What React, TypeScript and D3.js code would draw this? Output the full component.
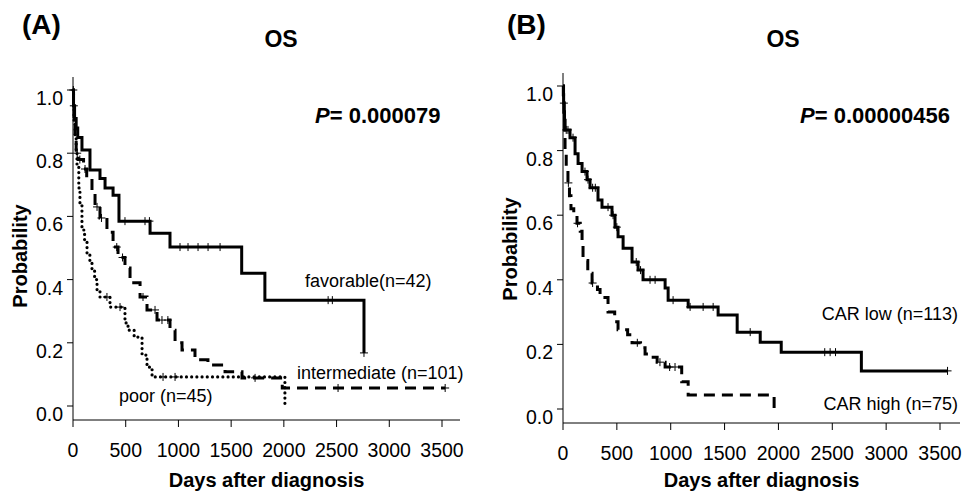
import React from 'react';
import * as d3 from 'd3';

// Panel A – risk groups
const favDays = [0, 5, 15, 30, 45, 85, 161, 256, 304, 380, 436, 731, 920, 1600, 1820, 2760];
const favSurv = [1, 0.95, 0.91, 0.88, 0.85, 0.81, 0.747, 0.72, 0.69, 0.667, 0.585, 0.547, 0.503, 0.42, 0.335, 0.168];
const favCensor = [8, 493, 683, 725, 1015, 1091, 1186, 1281, 1395, 2420, 2460, 2760];
const favEnd = 2760;

const intDays = [0, 5, 10, 20, 30, 50, 100, 130, 180, 209, 256, 322, 380, 427, 493, 541, 636, 702, 797, 920, 968, 1034, 1157, 1280, 1442, 1603, 1985];
const intSurv = [1, 0.95, 0.9, 0.85, 0.8, 0.78, 0.75, 0.72, 0.674, 0.63, 0.595, 0.55, 0.503, 0.47, 0.437, 0.39, 0.345, 0.304, 0.272, 0.24, 0.2, 0.177, 0.146, 0.13, 0.108, 0.089, 0.057];
const intCensor = [3, 40, 65, 114, 228, 270, 415, 470, 664, 778, 844, 900, 1727, 2514, 3530];
const intEnd = 3530;

const poorDays = [0, 5, 10, 20, 30, 38, 55, 66, 85, 110, 133, 160, 180, 205, 228, 256, 351, 493, 522, 580, 655, 702, 750, 2010];
const poorSurv = [1, 0.95, 0.9, 0.85, 0.8, 0.76, 0.69, 0.64, 0.557, 0.52, 0.484, 0.455, 0.43, 0.4, 0.367, 0.345, 0.313, 0.263, 0.24, 0.218, 0.161, 0.123, 0.092, 0];
const poorCensor = [322, 446, 854, 968];
const poorEnd = 2010;

// Panel B – CAR
const lowDays = [0, 3, 6, 10, 14, 19, 65, 112, 140, 177, 223, 251, 325, 362, 455, 483, 511, 558, 641, 697, 743, 948, 976, 1162, 1440, 1617, 1831, 2026, 2770];
const lowSurv = [1, 0.973, 0.947, 0.92, 0.894, 0.864, 0.84, 0.79, 0.76, 0.735, 0.71, 0.685, 0.647, 0.625, 0.6, 0.563, 0.533, 0.498, 0.455, 0.43, 0.4, 0.375, 0.337, 0.316, 0.291, 0.238, 0.207, 0.176, 0.118];
const lowCensor = [8, 30, 46, 93, 204, 232, 275, 300, 418, 465, 500, 680, 720, 808, 855, 1022, 1180, 1301, 1394, 1738, 2430, 2480, 2530, 3570];
const lowEnd = 3570;

const highDays = [0, 5, 10, 15, 19, 30, 46, 60, 74, 100, 130, 160, 177, 186, 230, 270, 320, 344, 418, 480, 511, 600, 641, 720, 762, 820, 874, 948, 1102, 1162, 1960];
const highSurv = [1, 0.947, 0.893, 0.84, 0.79, 0.75, 0.7, 0.66, 0.62, 0.6, 0.575, 0.55, 0.51, 0.46, 0.42, 0.39, 0.37, 0.345, 0.3, 0.27, 0.245, 0.23, 0.205, 0.19, 0.17, 0.16, 0.145, 0.13, 0.084, 0.043, 0];
const highCensor = [50, 135, 275, 690, 900, 990, 1040];
const highEnd = 1960;

const xTicks = [0, 500, 1000, 1500, 2000, 2500, 3000, 3500];
const yTicks = [0, 0.2, 0.4, 0.6, 0.8, 1.0];

const FONT = '"Liberation Sans", Arial, sans-serif';

const DASH = { solid: undefined, dashed: '11 7', dotted: '0 5.2' };

function survAt(days, surv, t) {
  let s = surv[0];
  for (let i = 0; i < days.length; i++) if (days[i] <= t) s = surv[i];
  return s;
}

function Curve({ days, surv, censor, end, style, x, y }) {
  const pts = days.map((d, i) => [d, surv[i]]);
  pts.push([end, surv[surv.length - 1]]);
  const line = d3.line().x(d => x(d[0])).y(d => y(d[1])).curve(d3.curveStepAfter);
  return (
    <g>
      <path
        d={line(pts)}
        fill="none"
        stroke="#000"
        strokeWidth={style === 'dotted' ? 3.2 : 3}
        strokeDasharray={DASH[style]}
        strokeLinecap={style === 'dotted' ? 'round' : 'butt'}
      />
      {censor.map((c, i) => {
        const cx = x(c), cy = y(survAt(days, surv, c));
        return (
          <path key={i} d={`M${cx - 4},${cy}H${cx + 4}M${cx},${cy - 4}V${cy + 4}`} stroke="#000" strokeWidth={1} />
        );
      })}
    </g>
  );
}

function Panel({ left, right, axisRight, y0, y1, yTop, xAxisY, letter, letterX, titleX, pText, pX, ylabY, curves, labels }) {
  const x = d3.scaleLinear().domain([0, 3500]).range([left, right]);
  const y = d3.scaleLinear().domain([0, 1]).range([y0, y1]);
  return (
    <g fontFamily={FONT}>
      <text x={letterX} y={34} fontSize={28} fontWeight="bold">{letter}</text>
      <text x={titleX} y={47} fontSize={23} fontWeight="bold" textAnchor="middle">OS</text>
      <text x={pX} y={123} fontSize={22} fontWeight="bold">
        <tspan fontStyle="italic">P</tspan>= {pText}
      </text>
      {curves.map((c, i) => <Curve key={i} {...c} x={x} y={y} />)}
      <line x1={left} x2={left} y1={yTop} y2={xAxisY} stroke="#000" strokeWidth={1} />
      <line x1={left} x2={axisRight} y1={xAxisY} y2={xAxisY} stroke="#000" strokeWidth={1} />
      {yTicks.map(t => (
        <g key={t}>
          <line x1={left - 6} x2={left} y1={y(t)} y2={y(t)} stroke="#000" strokeWidth={1} />
          <text x={left - 10} y={y(t) + 15} fontSize={19.5} textAnchor="end">{t.toFixed(1)}</text>
        </g>
      ))}
      {xTicks.map(t => (
        <g key={t}>
          <line x1={x(t)} x2={x(t)} y1={xAxisY} y2={xAxisY + 7} stroke="#000" strokeWidth={1} />
          <text x={x(t)} y={xAxisY + 37} fontSize={19.5} textAnchor="middle">{t}</text>
        </g>
      ))}
      <text x={(left + axisRight) / 2} y={487} fontSize={20} fontWeight="bold" textAnchor="middle">Days after diagnosis</text>
      <text transform={`translate(${left - 46},${ylabY}) rotate(-90)`} fontSize={20} fontWeight="bold" textAnchor="middle">Probability</text>
      {labels.map((l, i) => (
        <text key={i} x={l.x} y={l.y} fontSize={18} textAnchor={l.anchor}>{l.text}</text>
      ))}
    </g>
  );
}

export default function App() {
  const curvesA = [
    { days: poorDays, surv: poorSurv, censor: poorCensor, end: poorEnd, style: 'dotted' },
    { days: intDays, surv: intSurv, censor: intCensor, end: intEnd, style: 'dashed' },
    { days: favDays, surv: favSurv, censor: favCensor, end: favEnd, style: 'solid' },
  ];
  const curvesB = [
    { days: highDays, surv: highSurv, censor: highCensor, end: highEnd, style: 'dashed' },
    { days: lowDays, surv: lowSurv, censor: lowCensor, end: lowEnd, style: 'solid' },
  ];
  return (
    <svg width={975} height={498} style={{ position: 'absolute', left: 0, top: 0, background: '#fff' }}>
      <Panel
        left={73} right={442} axisRight={460} y0={406} y1={90} yTop={77} xAxisY={420}
        letter="(A)" letterX={22} titleX={281} pText="0.000079" pX={315} ylabY={256}
        curves={curvesA}
        labels={[
          { text: 'favorable(n=42)', x: 305, y: 287, anchor: 'start' },
          { text: 'intermediate (n=101)', x: 297, y: 379, anchor: 'start' },
          { text: 'poor (n=45)', x: 119, y: 402, anchor: 'start' },
        ]}
      />
      <Panel
        left={563} right={940} axisRight={960} y0={409} y1={86} yTop={73} xAxisY={423}
        letter="(B)" letterX={507} titleX={783} pText="0.00000456" pX={800} ylabY={249}
        curves={curvesB}
        labels={[
          { text: 'CAR low (n=113)', x: 958, y: 320, anchor: 'end' },
          { text: 'CAR high (n=75)', x: 958, y: 410, anchor: 'end' },
        ]}
      />
    </svg>
  );
}
